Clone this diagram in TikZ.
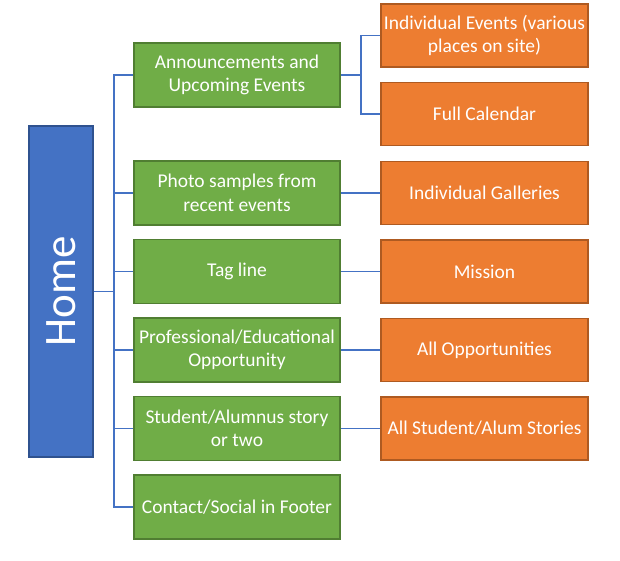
\documentclass[tikz,border=0pt]{standalone}
\usepackage{fontspec}
\setmainfont{Carlito}
\usepackage{xcolor}
\usepackage{tikz}
\usetikzlibrary{calc,positioning}
\definecolor{homeblue}{HTML}{4472C4}
\definecolor{homeedge}{HTML}{2F528F}
\definecolor{pagegreen}{HTML}{70AD47}
\definecolor{pageedge}{HTML}{507E32}
\definecolor{suborange}{HTML}{ED7D31}
\definecolor{subedge}{HTML}{AE5A21}

\begin{document}
\begin{tikzpicture}[x=1pt,y=1pt,
  node distance=13pt and 39.5pt,
  homebox/.style={draw=homeedge,fill=homeblue,line width=1.5pt,minimum width=64pt,
    minimum height=331pt,inner sep=0pt,text=white,font=\fontsize{45}{50}\selectfont},
  page/.style={draw=pageedge,fill=pagegreen,line width=1.5pt,minimum width=206pt,
    minimum height=64pt,align=center,inner sep=0pt,text=white,
    font=\fontsize{19.5}{23.5}\selectfont},
  sub/.style={draw=subedge,fill=suborange,line width=1.5pt,minimum width=207pt,
    minimum height=63pt,align=center,inner sep=0pt,text=white,
    font=\fontsize{19.5}{23.5}\selectfont},
  link/.style={draw=homeblue,line width=1.75pt}]
\useasboundingbox (0,0) rectangle (620,-561);
\node[homebox] (home) at (61,-291.5) {\rotatebox{90}{Home}};
\node[page] (news) at (237,-75) {Announcements and\\Upcoming Events};
\node[page,below=52.5pt of news] (photos) {Photo samples from\\recent events};
\node[page,below=of photos] (tagline) {Tag line};
\node[page,below=of tagline] (career) {Professional/Educational\\Opportunity};
\node[page,below=of career] (story) {Student/Alumnus story\\or two};
\node[page,below=of story] (contact) {Contact/Social in Footer};
\node[sub,right=of photos] (galleries) {Individual Galleries};
\node[sub,above=14.5pt of galleries] (calendar) {Full Calendar};
\node[sub,above=14pt of calendar] (events) {Individual Events (various\\places on site)};
\node[sub,right=of tagline] (mission) {Mission};
\node[sub,right=of career] (openings) {All Opportunities};
\node[sub,right=of story] (stories) {All Student/Alum Stories};
% home to the pages
\coordinate (hub) at ($(home.east)+(20pt,0)$);
\draw[link] (home.east)--(hub);
\foreach \n in {news,photos,tagline,career,story,contact}
  \draw[link] (hub) |- (\n.west);
% pages to their sub pages
\coordinate (fork) at ($(news.east)+(20.5pt,0)$);
\draw[link] (news.east)--(fork);
\draw[link] (fork) |- (events.west);
\draw[link] (fork) |- (calendar.west);
\draw[link] (photos)--(galleries);
\draw[link] (tagline)--(mission);
\draw[link] (career)--(openings);
\draw[link] (story)--(stories);
\end{tikzpicture}
\end{document}
